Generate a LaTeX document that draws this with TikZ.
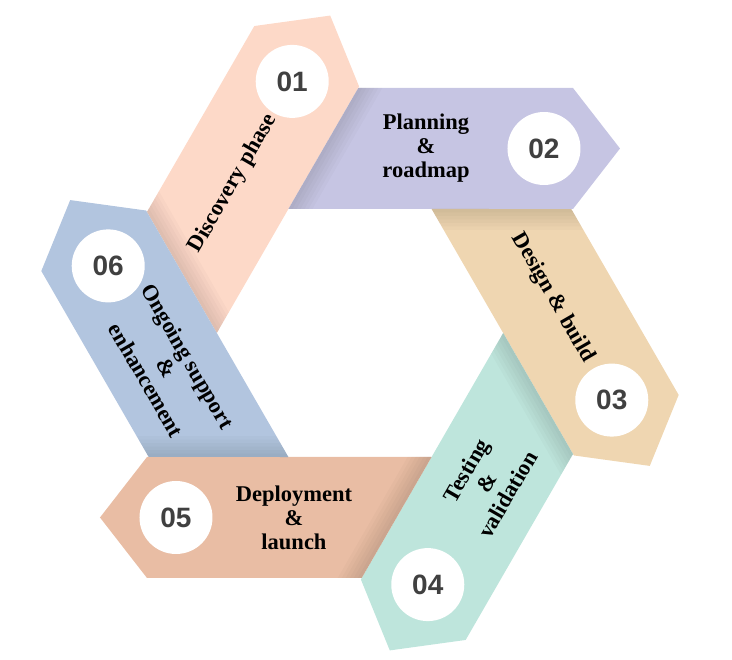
\documentclass[tikz,border=0pt]{standalone}
\usepackage{fontspec}
\setmainfont{Liberation Serif}
\newfontfamily\numfont{Liberation Sans}
\definecolor{peach}{RGB}{253,217,200}
\definecolor{lavender}{RGB}{198,197,227}
\definecolor{sand}{RGB}{239,214,177}
\definecolor{mint}{RGB}{190,229,220}
\definecolor{salmon}{RGB}{233,189,164}
\definecolor{steel}{RGB}{178,197,223}
\definecolor{numgray}{RGB}{64,64,64}
\begin{document}
\begin{tikzpicture}[x=1pt,y=1pt,
    num/.style={circle,fill=white,minimum size=73pt,inner sep=0pt,text=numgray,font=\numfont\bfseries\fontsize{28}{28}\selectfont},
    lbl/.style={align=center,font=\bfseries\fontsize{22.5}{24}\selectfont}]
  \useasboundingbox (-360,-327) rectangle (372,333);
  \foreach \rot/\trot/\col/\num/\txt in {60/60/peach/01/{Discovery phase},
      0/0/lavender/02/{Planning\\\&\\roadmap},
      -60/-60/sand/03/{Design \& build},
      -120/60/mint/04/{Testing\\\&\\validation},
      180/0/salmon/05/{Deployment\\\&\\launch},
      120/-60/steel/06/{Ongoing support\\\&\\enhancement}}{
    \begin{scope}[rotate=\rot]
      \fill[\col] (-71.6,124) -- (213,124) -- (260,184.5) -- (213,245) -- (-1.7,245) -- cycle;
      \foreach \h in {4,8,...,24}
        \fill[black,opacity=0.02] (-71.6,124) -- (-1.7,245) -- ++(\h,0) -- (-71.6+\h,124) -- cycle;
      \node[num] (n\num) at (184,184.5) {\num};
      \node[lbl,rotate=\trot] (t\num) at (66,184.5) {\txt};
    \end{scope}
  }
\end{tikzpicture}
\end{document}
